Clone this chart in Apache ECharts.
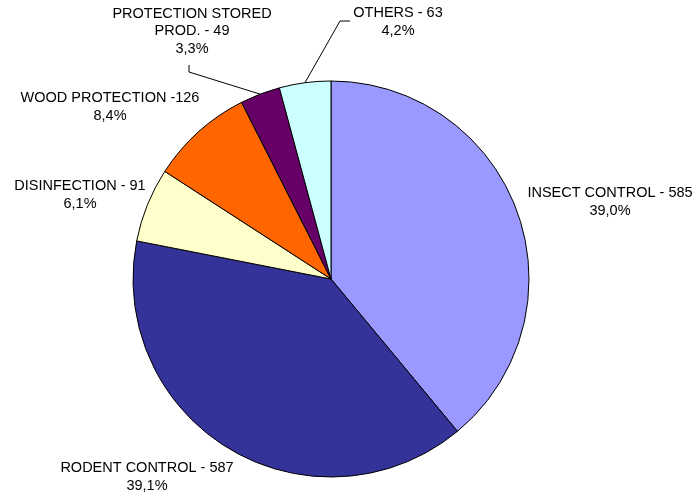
<!DOCTYPE html>
<html>
<head>
<meta charset="utf-8">
<script src="https://cdn.jsdelivr.net/npm/echarts@6/dist/echarts.min.js"></script>
<style>html,body{margin:0;padding:0;background:#fff;}#chart{width:697px;height:493px;}</style>
</head>
<body>
<div id="chart"></div>
<script>
// Data
var categories = ['INSECT CONTROL', 'RODENT CONTROL', 'DISINFECTION', 'WOOD PROTECTION', 'PROTECTION STORED\nPROD.', 'OTHERS'];
var values = [585, 587, 91, 126, 49, 63];
var separators = [' - ', ' - ', ' - ', ' -', ' - ', ' - '];
var colors = ['#9999FF', '#333399', '#FFFFCC', '#FF6600', '#660066', '#CCFFFF'];

// Layout (label anchor positions, label line bends)
var labelPos = [[610, 202], [147, 477], [80, 195], [110, 107], [192, 31], [398, 22]];
var lineBends = [null, null, null, null, [[189, 72], [189, 65]], [[340, 21], [350, 21]]];

var chart = echarts.init(document.getElementById('chart'), null, {renderer: 'canvas'});
var data = categories.map(function (c, i) {
  return {
    name: c,
    value: values[i],
    itemStyle: {color: colors[i]},
    labelLine: {show: !!lineBends[i]}
  };
});
chart.setOption({
  animation: false,
  backgroundColor: '#ffffff',
  series: [{
    type: 'pie',
    center: [331, 279],
    radius: 198,
    startAngle: 90,
    clockwise: true,
    avoidLabelOverlap: false,
    data: data,
    itemStyle: {borderColor: '#000000', borderWidth: 1},
    label: {
      show: true,
      position: 'outside',
      color: '#000000',
      fontFamily: 'Liberation Sans, Arial, sans-serif',
      fontSize: 14.5,
      lineHeight: 17.5,
      align: 'center',
      formatter: function (p) {
        return p.name + separators[p.dataIndex] + p.value + '\n' + p.percent.toFixed(1).replace('.', ',') + '%';
      }
    },
    labelLine: {show: true, length: 20, length2: 10, lineStyle: {color: '#000000', width: 1}},
    labelLayout: function (p) {
      var i = p.dataIndex;
      var res = {x: labelPos[i][0], y: labelPos[i][1], align: 'center', verticalAlign: 'middle'};
      if (lineBends[i] && p.labelLinePoints) {
        res.labelLinePoints = [p.labelLinePoints[0], lineBends[i][0], lineBends[i][1]];
      }
      return res;
    }
  }]
});
</script>
</body>
</html>
